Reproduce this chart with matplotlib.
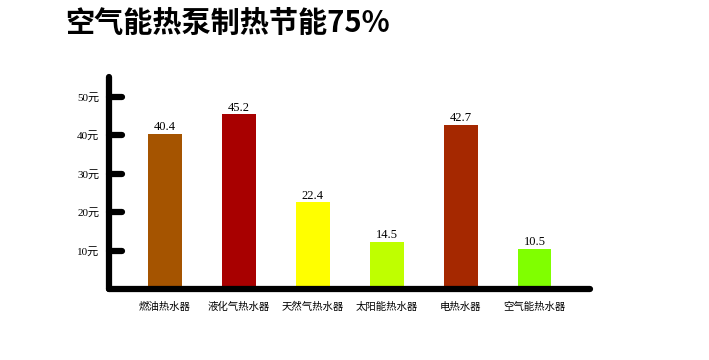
import matplotlib
matplotlib.use('Agg')
import matplotlib.pyplot as plt

# --- dati ---
categorie = ['燃油热水器', '液化气热水器', '天然气热水器', '太阳能热水器', '电热水器', '空气能热水器']
altezze = [40.4, 45.4, 22.5, 12.3, 42.7, 10.5]      # altezza disegnata delle barre
etichette = ['40.4', '45.2', '22.4', '14.5', '42.7', '10.5']  # valori scritti sopra
colori = ['#a55400', '#a80000', '#ffff00', '#bfff00', '#a52800', '#80ff00']
yticks = [10, 20, 30, 40, 50]
ytick_labels = ['10元', '20元', '30元', '40元', '50元']
titolo = '空气能热泵制热节能75%'

plt.rcParams['font.family'] = ['Noto Sans CJK SC', 'DejaVu Sans']
serif_cjk = ['Liberation Serif', 'Noto Sans CJK SC']

fig = plt.figure(figsize=(7.09, 3.6), dpi=100)
ax = fig.add_axes([109 / 709, 1 - 289 / 360, 481 / 709, 212 / 360])

x = list(range(len(categorie)))
bars = ax.bar(x, altezze, width=0.46, color=colori, edgecolor='none')

for b, lab in zip(bars, etichette):
    ax.annotate(lab, (b.get_x() + b.get_width() / 2, b.get_height()),
                xytext=(0, 0.4), textcoords='offset points',
                ha='center', va='bottom', fontsize=9, family=serif_cjk)

ax.set_xlim(-0.758, 5.751)
ax.set_ylim(0, 55.1)

# spine spesse con estremi arrotondati
for s in ['top', 'right']:
    ax.spines[s].set_visible(False)
for s in ['left', 'bottom']:
    ax.spines[s].set_linewidth(4.5)
    ax.spines[s].set_capstyle('round')

# tacche disegnate a mano (arrotondate)
ax.hlines(yticks, 0, 0.028, transform=ax.get_yaxis_transform(),
          colors='black', linewidth=4.5, capstyle='round', clip_on=False)

ax.set_yticks(yticks)
ax.set_yticklabels(ytick_labels, family=serif_cjk, fontsize=8)
ax.set_xticks(x)
ax.set_xticklabels(categorie, fontsize=7.5)
ax.tick_params(axis='y', length=0, pad=7)
ax.tick_params(axis='x', length=0, pad=9)

fig.text(65 / 709, 1 - 23 / 360, titolo, fontsize=21, fontweight='bold',
         ha='left', va='center')

fig.savefig('out.png', dpi=100, facecolor='white')
